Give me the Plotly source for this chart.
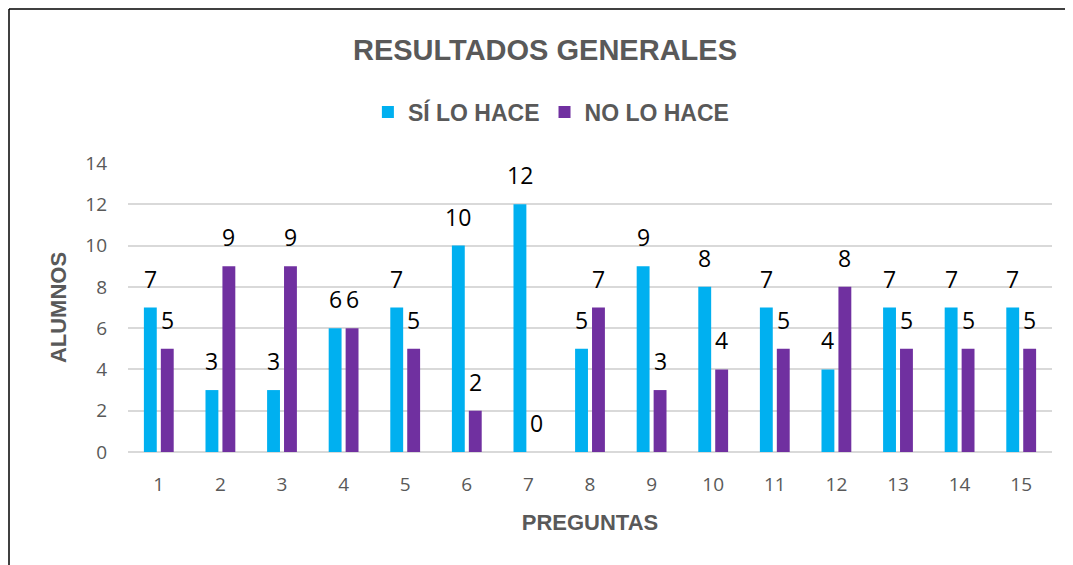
import plotly.graph_objects as go

preguntas = [str(i) for i in range(1, 16)]
si_lo_hace = [7, 3, 3, 6, 7, 10, 12, 5, 9, 8, 7, 4, 7, 7, 7]
no_lo_hace = [5, 9, 9, 6, 5, 2, 0, 7, 3, 4, 5, 8, 5, 5, 5]
y_ticks = [0, 2, 4, 6, 8, 10, 12, 14]

# page body adds an 8px offset, so the figure is drawn 8px smaller
W, H = 1065, 557
L, R, T, B = 120, 21, 155, 113
pw, ph = W - L - R, H - T - B

def px_x(x):
    return (x - L) / pw

def px_y(y):
    return (H - B - y) / ph

GRAY = "#595959"
label_font = dict(family="Open Sans, Liberation Sans, Arial", size=23, color="#000000")

fig = go.Figure()
fig.add_trace(go.Bar(
    x=preguntas, y=si_lo_hace, name="<b>SÍ LO HACE</b>",
    marker=dict(color="#00B0F0", line=dict(width=0)),
))
fig.add_trace(go.Bar(
    x=preguntas, y=no_lo_hace, name="<b>NO LO HACE</b>",
    marker=dict(color="#7030A0", line=dict(width=0)),
))

annotations = []
for series, shift in ((si_lo_hace, -8.5), (no_lo_hace, 8.5)):
    for idx, val in enumerate(series):
        annotations.append(dict(
            x=idx, y=val, xref="x", yref="y", text=str(val), showarrow=False,
            xshift=shift, yshift=11, yanchor="bottom", xanchor="center",
            font=label_font,
        ))

fig.update_layout(
    width=W, height=H,
    margin=dict(l=L, r=R, t=T, b=B),
    paper_bgcolor="white", plot_bgcolor="white",
    barmode="group", bargap=0.45, bargroupgap=0.24,
    title=dict(text="<b>RESULTADOS GENERALES</b>", x=537 / W, xanchor="center",
               y=1 - 42 / H, yanchor="middle",
               font=dict(family="Liberation Sans, Arial", size=29, color=GRAY)),
    legend=dict(orientation="h", x=488 / W, xanchor="center", y=1 - 104 / H, yanchor="middle",
                yref="container",
                font=dict(family="Liberation Sans, Arial", size=23, color=GRAY),
                traceorder="normal", bgcolor="rgba(0,0,0,0)"),
    showlegend=True,
    annotations=annotations,
    xaxis=dict(
        type="category",
        range=[-0.5, len(preguntas) - 0.5],
        tickfont=dict(family="Open Sans, Liberation Sans, Arial", size=19, color=GRAY),
        ticklabelstandoff=19,
        title=dict(text="<b>PREGUNTAS</b>", standoff=18,
                   font=dict(family="Liberation Sans, Arial", size=22, color=GRAY)),
        showline=False, ticks="", showgrid=False,
    ),
    yaxis=dict(
        range=[0, 14], tickvals=y_ticks,
        tickfont=dict(family="Open Sans, Liberation Sans, Arial", size=19, color=GRAY),
        ticklabelstandoff=20,
        title=dict(text="<b>ALUMNOS</b>", standoff=12,
                   font=dict(family="Liberation Sans, Arial", size=22, color=GRAY)),
        showgrid=True, gridcolor="#D9D9D9", gridwidth=2,
        zeroline=True, zerolinecolor="#D9D9D9", zerolinewidth=2,
        ticks="", showline=False,
    ),
    shapes=[
        dict(type="line", xref="paper", yref="paper",
             x0=px_x(1), x1=px_x(1), y0=px_y(H + 5), y1=px_y(1),
             line=dict(color="black", width=1.5)),
        dict(type="line", xref="paper", yref="paper",
             x0=px_x(1), x1=px_x(W + 5), y0=px_y(1), y1=px_y(1),
             line=dict(color="black", width=1.5)),
    ],
)

fig.write_html("out.html")
